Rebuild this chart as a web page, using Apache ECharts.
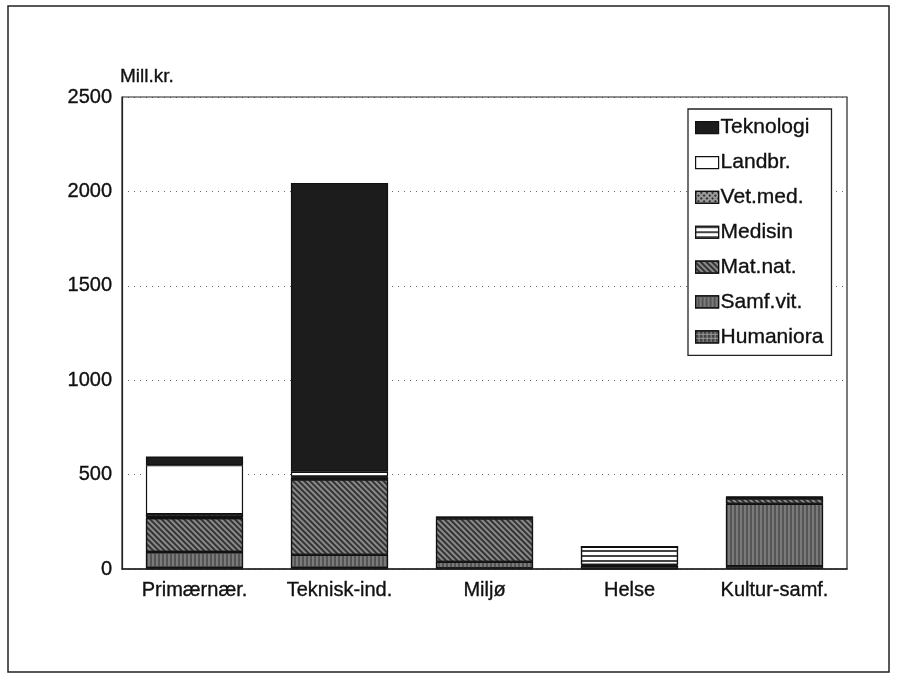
<!DOCTYPE html>
<html><head><meta charset="utf-8">
<script src="https://cdn.jsdelivr.net/npm/echarts@6/dist/echarts.min.js"></script>
<style>html,body{margin:0;padding:0;background:#fff}#c{width:898px;height:680px}</style>
</head><body><div id="c"></div>
<script>
const categories = ['Primærnær.', 'Teknisk-ind.', 'Miljø', 'Helse', 'Kultur-samf.'];
const humaniora = [5, 5, 3, 2, 15];
const samfvit   = [85, 70, 35, 15, 330];
const matnat    = [180, 400, 230, 5, 30];
const medisin   = [5, 10, 5, 95, 5];
const vetmed    = [15, 5, 0, 0, 0];
const landbr    = [260, 25, 0, 0, 0];
const teknologi = [46, 1530, 2, 0, 2];
const yTicks = [0, 500, 1000, 1500, 2000, 2500];

const font = 'Liberation Sans, Arial, sans-serif';
const styles = {
  'Teknologi': {color: '#1c1c1c'},
  'Landbr.':   {color: '#ffffff'},
  'Vet.med.':  {color: '#9a9a9a', decal: {symbol: 'rect', color: '#333', dashArrayX: [[2, 2]], dashArrayY: [2, 2], symbolSize: 1, rotation: Math.PI/4}},
  'Medisin':   {color: '#ffffff', decal: {symbol: 'rect', color: '#444', dashArrayX: [1, 0], dashArrayY: [2, 3], symbolSize: 1, rotation: 0}},
  'Mat.nat.':  {color: '#8a8a8a', decal: {symbol: 'rect', color: '#333', dashArrayX: [1, 0], dashArrayY: [2, 2], symbolSize: 1, rotation: Math.PI/4}},
  'Samf.vit.': {color: '#7a7a7a', decal: {symbol: 'rect', color: '#555', dashArrayX: [1, 0], dashArrayY: [2, 2], symbolSize: 1, rotation: Math.PI/2}},
  'Humaniora': {color: '#9a9a9a', decal: {symbol: 'rect', color: '#444', dashArrayX: [[3, 1]], dashArrayY: [3, 1], symbolSize: 1, rotation: 0}}
};
const seriesData = [
  ['Humaniora', humaniora], ['Samf.vit.', samfvit], ['Mat.nat.', matnat],
  ['Medisin', medisin], ['Vet.med.', vetmed], ['Landbr.', landbr], ['Teknologi', teknologi]
];
const txt = {fontFamily: font, color: '#111', textBorderColor: '#111', textBorderWidth: 0.35};

const chart = echarts.init(document.getElementById('c'));
chart.setOption({
  animation: false,
  backgroundColor: '#fff',
  graphic: [
    {type: 'rect', shape: {x: 8, y: 6, width: 881, height: 666}, style: {fill: 'none', stroke: '#222', lineWidth: 1.5}, z: -1},
    {type: 'rect', shape: {x: 122, y: 97, width: 725, height: 472}, style: {fill: 'none', stroke: '#222', lineWidth: 1.2}, z: 10}
  ],
  grid: {left: 122, top: 97, width: 725, height: 472},
  legend: {
    data: ['Teknologi', 'Landbr.', 'Vet.med.', 'Medisin', 'Mat.nat.', 'Samf.vit.', 'Humaniora'],
    orient: 'vertical', left: 688, top: 109,
    padding: [8, 8, 8, 7], itemGap: 13.5, itemWidth: 23, itemHeight: 12,
    borderColor: '#222', borderWidth: 1.3, backgroundColor: '#fff',
    textStyle: Object.assign({fontSize: 21, padding: [0, 0, 0, -3]}, txt),
    itemStyle: {borderColor: '#111', borderWidth: 1.2},
    icon: 'rect'
  },
  xAxis: {
    type: 'category', data: categories,
    axisLine: {lineStyle: {color: '#222', width: 1.5}},
    axisTick: {show: false},
    axisLabel: Object.assign({fontSize: 20, margin: 11}, txt)
  },
  yAxis: {
    type: 'value', min: 0, max: 2500, interval: 500,
    name: 'Mill.kr.', nameLocation: 'end', nameGap: 11,
    nameTextStyle: Object.assign({fontSize: 19, align: 'left', padding: [0, 0, 0, -2]}, txt),
    axisLine: {show: true, lineStyle: {color: '#222', width: 1.2}},
    axisTick: {show: false},
    axisLabel: Object.assign({fontSize: 20, margin: 10,
      formatter: v => yTicks.includes(v) ? String(v) : ''}, txt),
    splitLine: {lineStyle: {color: '#666', type: [1, 5], width: 1}}
  },
  series: seriesData.map(([name, data]) => ({
    name, type: 'bar', stack: 'total', data, barWidth: '67%',
    itemStyle: Object.assign({borderColor: '#111', borderWidth: 1.2}, styles[name])
  }))
});
</script></body></html>
